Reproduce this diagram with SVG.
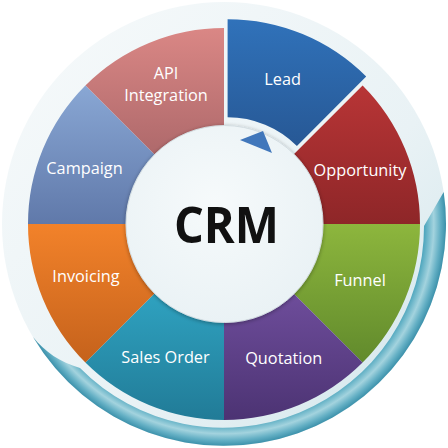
<svg xmlns="http://www.w3.org/2000/svg" width="448" height="448" viewBox="0 0 448 448">
<defs>
<linearGradient id="pale" x1="0" y1="0" x2="1" y2="1"><stop offset="0" stop-color="#f7fafb"/><stop offset="0.6" stop-color="#e9f2f5"/><stop offset="1" stop-color="#cfe4ea"/></linearGradient>
<radialGradient id="teal" gradientUnits="userSpaceOnUse" cx="224" cy="224" r="222"><stop offset="0.86" stop-color="#3f96b0"/><stop offset="0.905" stop-color="#52a8bf"/><stop offset="0.945" stop-color="#a3d3de"/><stop offset="0.975" stop-color="#63afc4"/><stop offset="1" stop-color="#3b90aa"/></radialGradient>
<radialGradient id="hub" cx="0.45" cy="0.4" r="0.6"><stop offset="0" stop-color="#f6fafb"/><stop offset="1" stop-color="#eaf2f5"/></radialGradient>
<linearGradient id="gApi" x1="0" y1="0" x2="0" y2="1"><stop offset="0" stop-color="#da8785"/><stop offset="1" stop-color="#ae696b"/></linearGradient>
<linearGradient id="gLead" x1="0" y1="0" x2="0" y2="1"><stop offset="0" stop-color="#3072ba"/><stop offset="1" stop-color="#275895"/></linearGradient>
<linearGradient id="gOpp" x1="0" y1="0" x2="0" y2="1"><stop offset="0" stop-color="#b83536"/><stop offset="1" stop-color="#8e2628"/></linearGradient>
<linearGradient id="gFun" x1="0" y1="0" x2="0" y2="1"><stop offset="0" stop-color="#8db63d"/><stop offset="1" stop-color="#618a2c"/></linearGradient>
<linearGradient id="gQuo" x1="0" y1="0" x2="0" y2="1"><stop offset="0" stop-color="#6e4d9b"/><stop offset="1" stop-color="#4c3373"/></linearGradient>
<linearGradient id="gSal" x1="0" y1="0" x2="0" y2="1"><stop offset="0" stop-color="#2fa2c0"/><stop offset="1" stop-color="#217b97"/></linearGradient>
<linearGradient id="gInv" x1="0" y1="0" x2="0" y2="1"><stop offset="0" stop-color="#f2822a"/><stop offset="1" stop-color="#c5621c"/></linearGradient>
<linearGradient id="gCam" x1="0" y1="0" x2="0" y2="1"><stop offset="0" stop-color="#89a7d4"/><stop offset="1" stop-color="#6079aa"/></linearGradient>
<filter id="sh" x="-10%" y="-10%" width="120%" height="120%"><feGaussianBlur in="SourceAlpha" stdDeviation="2"/><feOffset dx="0" dy="1"/><feComponentTransfer><feFuncA type="linear" slope="0.35"/></feComponentTransfer><feMerge><feMergeNode/><feMergeNode in="SourceGraphic"/></feMerge></filter>
</defs>
<style>
.lbl{font-family:"Open Sans","Noto Sans","DejaVu Sans",sans-serif;font-size:16.3px;fill:#ffffff;text-anchor:middle}
.crm{font-family:"Open Sans","Liberation Sans",sans-serif;font-size:51px;font-weight:bold;fill:#111111;text-anchor:middle}
</style>
<g id="background">
<circle cx="224" cy="224" r="222" fill="url(#pale)"/>
<path d="M443.7,192 A222,222 0 0 1 33,337 C45,352 60,362 80,368 A201,201 0 0 0 424,226 Z" fill="url(#teal)"/>
</g>
<g id="api-integration">
<path d="M85.41,85.41 A196,196 0 0 1 224,28 L224,126 A98,98 0 0 0 154.70,154.70 Z" fill="url(#gApi)"/>
<text class="lbl" x="166" y="79">API</text>
<text class="lbl" x="166" y="101">Integration</text>
</g>
<g id="lead" transform="translate(3.6,-8.8)">
<path d="M224,28 A196,196 0 0 1 362.59,85.41 L293.30,154.70 A98,98 0 0 0 224,126 Z" fill="url(#gLead)"/>
<text class="lbl" x="279" y="93.8">Lead</text>
</g>
<g id="opportunity">
<path d="M362.59,85.41 A196,196 0 0 1 420,224 L322,224 A98,98 0 0 0 293.30,154.70 Z" fill="url(#gOpp)"/>
<text class="lbl" x="360" y="175.5">Opportunity</text>
</g>
<g id="funnel">
<path d="M420,224 A196,196 0 0 1 362.59,362.59 L293.30,293.30 A98,98 0 0 0 322,224 Z" fill="url(#gFun)"/>
<text class="lbl" x="360" y="286.3">Funnel</text>
</g>
<g id="quotation">
<path d="M362.59,362.59 A196,196 0 0 1 224,420 L224,322 A98,98 0 0 0 293.30,293.30 Z" fill="url(#gQuo)"/>
<text class="lbl" x="283.7" y="363.5">Quotation</text>
</g>
<g id="sales-order">
<path d="M224,420 A196,196 0 0 1 85.41,362.59 L154.70,293.30 A98,98 0 0 0 224,322 Z" fill="url(#gSal)"/>
<text class="lbl" x="165.5" y="363.3">Sales Order</text>
</g>
<g id="invoicing">
<path d="M85.41,362.59 A196,196 0 0 1 28,224 L126,224 A98,98 0 0 0 154.70,293.30 Z" fill="url(#gInv)"/>
<text class="lbl" x="86" y="282.3">Invoicing</text>
</g>
<g id="campaign">
<path d="M28,224 A196,196 0 0 1 85.41,85.41 L154.70,154.70 A98,98 0 0 0 126,224 Z" fill="url(#gCam)"/>
<text class="lbl" x="84.5" y="173.5">Campaign</text>
</g>
<g id="crm">
<circle cx="224.5" cy="224" r="98.5" fill="url(#hub)" stroke="#d3dde1" stroke-width="1" filter="url(#sh)"/>
<text class="crm" x="226.5" y="242.5" textLength="105" lengthAdjust="spacingAndGlyphs">CRM</text>
</g>
<g id="connectors">
<polygon points="240,140 263,131 272,153" fill="#4177bb"/>
</g>
</svg>
